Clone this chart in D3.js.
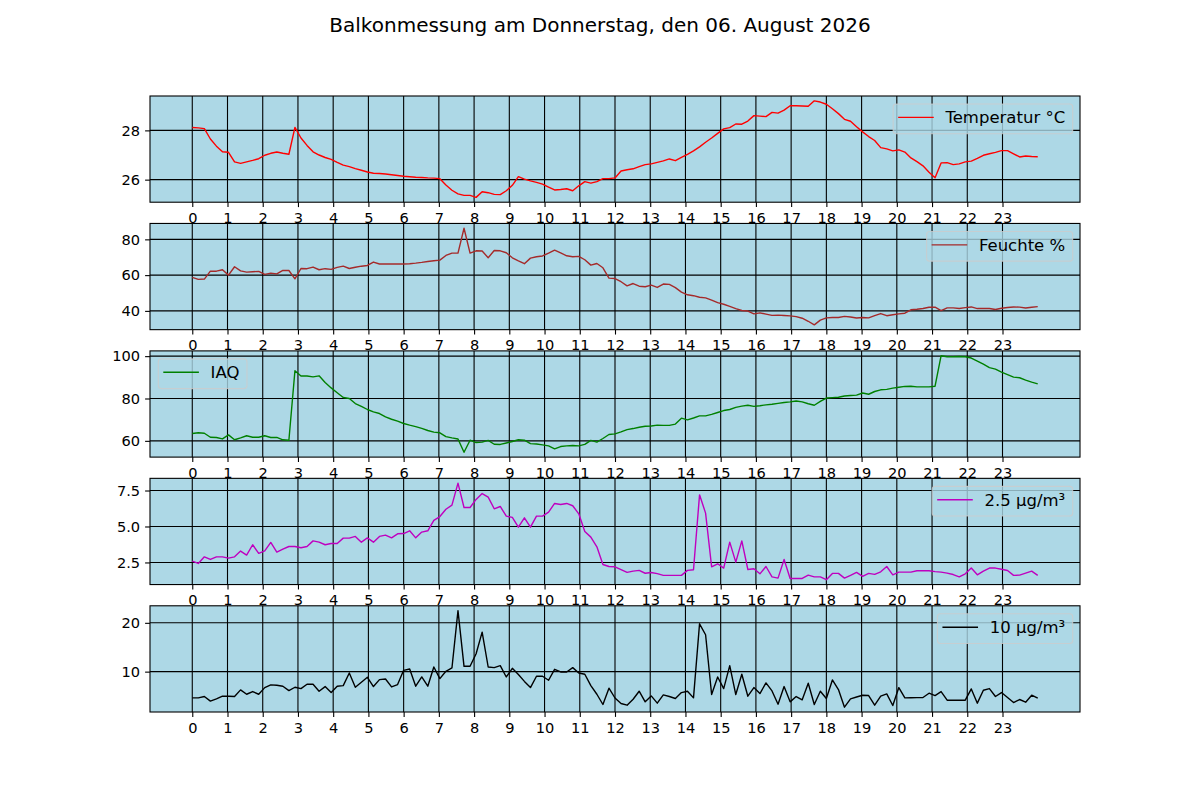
<!DOCTYPE html>
<html>
  <head>
    <meta charset="utf-8">
    <!-- load the d3 javascript library -->
    <script src="https://d3js.org/d3.v7.min.js"></script>
    <style>
      body { margin: 0; background: #fff; }
      text { font-family: "DejaVu Sans", sans-serif; }
    </style>
  </head>
  <body>

    <!-- d3 script -->
    <script>

    // sample times in hours: one reading roughly every 10 minutes, 0:00 .. 24:00
    var hours = d3.range(141).map(function(i) { return i * 24 / 140; });
    var hourTicks = d3.range(24);

    var titleText = "Balkonmessung am Donnerstag, den 06. August 2026";

    // temperature in °C
    var temperatur = [
      28.12, 28.10, 28.07, 27.65, 27.36, 27.13, 27.11, 26.72, 26.66, 26.72,
      26.78, 26.85, 26.99, 27.07, 27.12, 27.07, 27.03, 28.12, 27.69, 27.39,
      27.13, 27.00, 26.90, 26.82, 26.70, 26.59, 26.53, 26.45, 26.38, 26.31,
      26.26, 26.25, 26.23, 26.20, 26.17, 26.14, 26.12, 26.10, 26.09, 26.07,
      26.06, 26.04, 25.78, 25.57, 25.42, 25.36, 25.36, 25.28, 25.51, 25.47,
      25.40, 25.39, 25.55, 25.77, 26.12, 26.02, 25.95, 25.89, 25.82, 25.70,
      25.58, 25.60, 25.63, 25.55, 25.75, 25.92, 25.86, 25.92, 26.04, 26.04,
      26.07, 26.35, 26.40, 26.44, 26.53, 26.61, 26.64, 26.70, 26.76, 26.84,
      26.77, 26.90, 27.03, 27.17, 27.33, 27.52, 27.69, 27.88, 28.06, 28.11,
      28.26, 28.25, 28.38, 28.60, 28.58, 28.56, 28.73, 28.70, 28.82, 29.00,
      29.00, 28.99, 28.98, 29.20, 29.15, 29.06, 28.88, 28.68, 28.45, 28.37,
      28.15, 27.94, 27.75, 27.59, 27.30, 27.25, 27.17, 27.21, 27.12, 26.88,
      26.73, 26.56, 26.30, 26.08, 26.68, 26.69, 26.61, 26.64, 26.72, 26.75,
      26.86, 26.99, 27.05, 27.11, 27.18, 27.18, 27.05, 26.92, 26.96, 26.94,
      26.93
    ];

    // relative humidity in %
    var feuchte = [
      58.7, 57.6, 57.8, 62.2, 62.2, 63.0, 60.0, 64.7, 62.4, 61.7,
      61.9, 62.1, 60.4, 61.1, 60.7, 62.6, 62.6, 57.9, 63.7, 63.6,
      64.5, 63.0, 63.6, 63.2, 64.3, 65.0, 63.7, 64.4, 65.0, 65.4,
      67.3, 66.2, 66.2, 66.2, 66.2, 66.2, 66.4, 66.7, 67.1, 67.6,
      68.0, 68.4, 71.0, 72.3, 72.3, 86.2, 72.3, 73.6, 73.5, 69.7,
      73.8, 73.6, 72.5, 69.7, 68.0, 66.4, 69.5, 70.3, 70.7, 72.3,
      74.0, 72.5, 70.8, 70.3, 70.5, 68.6, 65.6, 66.5, 64.1, 58.3,
      58.1, 56.3, 54.0, 55.3, 53.8, 53.5, 54.4, 53.1, 55.0, 54.8,
      53.0, 50.5, 49.0, 48.5, 47.6, 47.3, 46.0, 44.6, 43.7, 42.5,
      41.3, 40.2, 39.9, 38.3, 38.9, 38.2, 37.5, 37.6, 37.4, 37.2,
      36.8, 35.9, 34.2, 32.2, 34.8, 36.1, 36.3, 36.3, 36.9, 36.6,
      36.0, 36.3, 36.1, 37.3, 38.5, 37.3, 37.8, 38.3, 38.7, 40.6,
      40.9, 41.3, 42.0, 42.1, 40.2, 41.7, 41.7, 41.3, 41.8, 42.2,
      41.3, 41.4, 41.3, 40.8, 41.5, 41.9, 42.2, 42.1, 41.6, 42.0,
      42.4
    ];

    // indoor air quality index
    var iaq = [
      63.5, 63.8, 63.6, 61.7, 61.6, 60.9, 62.8, 60.5, 61.4, 62.4,
      61.7, 61.7, 62.4, 61.6, 61.6, 60.5, 60.3, 93.1, 90.6, 90.6,
      90.2, 90.7, 87.6, 85.0, 82.7, 80.5, 80.0, 77.6, 76.3, 74.8,
      73.7, 72.9, 71.3, 70.2, 69.3, 68.2, 67.4, 66.7, 65.9, 64.9,
      64.1, 63.8, 62.0, 61.4, 60.9, 54.6, 60.3, 59.2, 59.4, 60.2,
      58.4, 58.3, 59.0, 59.7, 60.5, 60.3, 58.7, 58.5, 58.1, 57.6,
      56.2, 57.3, 57.6, 57.8, 57.6, 58.3, 60.2, 59.4, 61.1, 63.0,
      63.3, 64.2, 65.3, 65.8, 66.4, 66.9, 67.0, 67.4, 67.3, 67.3,
      67.9, 70.7, 69.9, 70.8, 71.8, 71.8, 72.5, 73.4, 74.3, 74.8,
      75.8, 76.4, 76.8, 76.3, 76.6, 77.0, 77.3, 77.7, 78.1, 78.4,
      78.8, 78.4, 77.5, 76.8, 78.6, 80.2, 80.4, 80.6, 81.2, 81.4,
      81.6, 82.6, 82.0, 83.3, 84.1, 84.3, 84.9, 85.3, 85.7, 85.8,
      85.5, 85.5, 85.5, 85.8, 100.2, 99.7, 99.7, 99.8, 99.7, 99.1,
      97.7, 96.2, 94.6, 93.9, 92.5, 91.3, 90.1, 89.8, 88.7, 87.7,
      86.9
    ];

    // fine dust PM2.5 in µg/m³
    var pm25 = [
      2.59, 2.43, 2.89, 2.71, 2.89, 2.89, 2.80, 2.89, 3.29, 3.01,
      3.73, 3.13, 3.31, 3.89, 3.22, 3.43, 3.61, 3.61, 3.52, 3.61,
      4.00, 3.91, 3.73, 3.82, 3.82, 4.19, 4.19, 4.31, 3.91, 4.21,
      3.91, 4.31, 4.40, 4.21, 4.49, 4.51, 4.70, 4.21, 4.61, 4.70,
      5.42, 5.69, 6.20, 6.48, 8.01, 6.32, 6.32, 6.88, 7.29, 7.04,
      6.23, 6.39, 5.72, 5.63, 4.95, 5.60, 4.95, 5.72, 5.72, 6.00,
      6.60, 6.53, 6.60, 6.44, 5.88, 4.65, 4.26, 3.59, 2.36, 2.22,
      2.20, 2.00, 1.81, 1.90, 1.95, 1.75, 1.80, 1.72, 1.60, 1.60,
      1.60, 1.60, 1.95, 1.99, 7.20, 5.93, 2.20, 2.41, 2.11, 3.91,
      2.52, 4.00, 2.01, 2.06, 1.71, 2.22, 1.50, 1.41, 2.71, 1.39,
      1.39, 1.39, 1.62, 1.50, 1.50, 1.30, 1.74, 1.74, 1.41, 1.60,
      1.81, 1.53, 1.74, 1.67, 1.85, 2.22, 1.64, 1.83, 1.83, 1.83,
      1.92, 1.92, 1.92, 1.86, 1.83, 1.76, 1.66, 1.50, 1.71, 2.11,
      1.64, 1.90, 2.11, 2.11, 2.03, 1.94, 1.60, 1.62, 1.76, 1.90,
      1.60
    ];

    // fine dust PM10 in µg/m³
    var pm10 = [
      4.63, 4.63, 4.90, 3.95, 4.42, 4.97, 4.97, 4.90, 6.26, 5.37,
      5.92, 5.37, 6.73, 7.28, 7.21, 7.01, 6.12, 6.80, 6.53, 7.41,
      7.41, 5.99, 6.94, 5.71, 7.01, 7.14, 9.73, 6.80, 7.82, 8.84,
      6.94, 8.37, 8.50, 6.87, 7.35, 10.27, 10.54, 7.01, 8.91, 7.01,
      10.95, 8.57, 10.07, 10.75, 22.5, 11.09, 11.09, 13.67, 18.10, 10.95,
      10.82, 11.22, 8.91, 10.68, 9.40, 8.00, 6.73, 9.05, 9.05, 8.23,
      10.48, 9.93, 9.93, 10.82, 9.73, 9.46, 7.14, 5.37, 3.27, 6.60,
      4.60, 3.47, 3.13, 4.35, 5.99, 3.81, 5.03, 3.54, 5.24, 4.90,
      4.49, 5.71, 5.99, 4.63, 19.80, 17.55, 5.31, 8.91, 6.53, 11.22,
      5.31, 9.46, 4.97, 6.73, 5.51, 7.69, 6.05, 3.33, 6.94, 3.81,
      4.90, 4.22, 7.62, 3.27, 5.99, 4.49, 8.30, 6.33, 2.72, 4.42,
      4.80, 5.17, 5.10, 3.13, 4.97, 5.44, 3.06, 6.73, 4.63, 4.65,
      4.67, 4.69, 5.58, 5.10, 5.92, 4.15, 4.15, 4.15, 4.15, 6.46,
      3.54, 6.19, 6.53, 4.90, 5.71, 4.70, 3.67, 4.29, 3.74, 5.17,
      4.56
    ];

    // y tick values per panel
    var temperaturTicks = [26, 28];
    var feuchteTicks = [40, 60, 80];
    var iaqTicks = [60, 80, 100];
    var pm25Ticks = [2.5, 5.0, 7.5];
    var pm10Ticks = [10, 20];

    var panels = [
      { values: temperatur, ticks: temperaturTicks, name: "Temperatur °C", color: "red", corner: "right", fmt: "d" },
      { values: feuchte, ticks: feuchteTicks, name: "Feuchte %", color: "brown", corner: "right", fmt: "d" },
      { values: iaq, ticks: iaqTicks, name: "IAQ", color: "green", corner: "left", fmt: "d" },
      { values: pm25, ticks: pm25Ticks, name: "2.5 µg/m³", color: "#bf00bf", corner: "right", fmt: ".1f" },
      { values: pm10, ticks: pm10Ticks, name: "10 µg/m³", color: "black", corner: "right", fmt: "d" }
    ];

    // figure layout (like matplotlib subplots on a 12x8 inch figure)
    var w = 1200;
    var h = 800;
    var plotLeft = 150, plotRight = 1080, plotTop = 96, plotBottom = 712;
    var panelH = (plotBottom - plotTop) / 5.8;
    var gap = panelH * 0.2;

    var svg = d3.select("body")
      .append("svg")
      .attr("width", w)
      .attr("height", h);

    svg.append("rect")
      .attr("width", w)
      .attr("height", h)
      .attr("fill", "white");

    svg.append("text")
      .attr("x", w / 2)
      .attr("y", 31.7)
      .attr("text-anchor", "middle")
      .attr("font-size", "20px")
      .attr("fill", "black")
      .text(titleText);

    // shared x scale with 5% margins like matplotlib autoscale
    var xExt = d3.extent(hours);
    var xPad = (xExt[1] - xExt[0]) * 0.05;
    var x = d3.scaleLinear()
      .domain([xExt[0] - xPad, xExt[1] + xPad])
      .range([plotLeft, plotRight]);

    panels.forEach(function(p, k) {
      var y0 = plotTop + k * (panelH + gap);
      var yExt = d3.extent(p.values);
      var yPad = (yExt[1] - yExt[0]) * 0.05;
      var y = d3.scaleLinear()
        .domain([yExt[0] - yPad, yExt[1] + yPad])
        .range([y0 + panelH, y0]);

      var g = svg.append("g");

      g.append("clipPath")
        .attr("id", "clip" + k)
        .append("rect")
        .attr("x", plotLeft)
        .attr("y", y0)
        .attr("width", plotRight - plotLeft)
        .attr("height", panelH);

      // background
      g.append("rect")
        .attr("x", plotLeft)
        .attr("y", y0)
        .attr("width", plotRight - plotLeft)
        .attr("height", panelH)
        .attr("fill", "lightblue");

      // grid
      g.append("g")
        .selectAll("line")
        .data(hourTicks)
        .enter()
        .append("line")
        .attr("x1", function(d) { return x(d); })
        .attr("x2", function(d) { return x(d); })
        .attr("y1", y0)
        .attr("y2", y0 + panelH)
        .attr("stroke", "black")
        .attr("stroke-width", 1.1);

      g.append("g")
        .selectAll("line")
        .data(p.ticks)
        .enter()
        .append("line")
        .attr("x1", plotLeft)
        .attr("x2", plotRight)
        .attr("y1", function(d) { return y(d); })
        .attr("y2", function(d) { return y(d); })
        .attr("stroke", "black")
        .attr("stroke-width", 1.1);

      // data line
      var line = d3.line()
        .x(function(d, i) { return x(hours[i]); })
        .y(function(d) { return y(d); });

      g.append("path")
        .datum(p.values)
        .attr("clip-path", "url(#clip" + k + ")")
        .attr("d", line)
        .attr("fill", "none")
        .attr("stroke", p.color)
        .attr("stroke-width", 1.4)
        .attr("stroke-linejoin", "round");

      // spines
      g.append("rect")
        .attr("x", plotLeft)
        .attr("y", y0)
        .attr("width", plotRight - plotLeft)
        .attr("height", panelH)
        .attr("fill", "none")
        .attr("stroke", "black")
        .attr("stroke-width", 1.1);

      // axes
      var xAxis = g.append("g")
        .attr("transform", "translate(0," + (y0 + panelH) + ")")
        .call(d3.axisBottom(x).tickValues(hourTicks).tickSize(4.9).tickPadding(5.5).tickFormat(d3.format("d")));
      xAxis.select(".domain").remove();

      var yAxis = g.append("g")
        .attr("transform", "translate(" + plotLeft + ",0)")
        .call(d3.axisLeft(y).tickValues(p.ticks).tickSize(4.9).tickPadding(5).tickFormat(d3.format(p.fmt)));
      yAxis.select(".domain").remove();

      [xAxis, yAxis].forEach(function(a) {
        a.attr("font-size", "14.6px")
          .attr("font-family", "DejaVu Sans, sans-serif");
        a.selectAll("line").attr("stroke-width", 1.1);
        a.selectAll("text").attr("fill", "black");
      });

      // legend
      var lg = g.append("g");
      var txt = lg.append("text")
        .attr("font-size", "16.5px")
        .attr("fill", "black")
        .text(p.name);
      var tw = txt.node().getComputedTextLength();
      var bw = 5 + 35.6 + 11.7 + tw + 7.5;
      var bh = 29.7;
      var bx = p.corner === "right" ? plotRight - 7.3 - bw : plotLeft + 8.3;
      var by = y0 + 8;

      lg.insert("rect", "text")
        .attr("x", bx)
        .attr("y", by)
        .attr("width", bw)
        .attr("height", bh)
        .attr("rx", 3)
        .attr("fill", "lightblue")
        .attr("fill-opacity", 0.8)
        .attr("stroke", "#cccccc")
        .attr("stroke-opacity", 0.8)
        .attr("stroke-width", 1.1);

      lg.insert("line", "text")
        .attr("x1", bx + 5)
        .attr("x2", bx + 5 + 35.6)
        .attr("y1", by + 13.4)
        .attr("y2", by + 13.4)
        .attr("stroke", p.color)
        .attr("stroke-width", 1.4);

      txt.attr("x", bx + 5 + 35.6 + 11.7)
        .attr("y", by + 19.2);
    });

    </script>
  </body>
</html>
